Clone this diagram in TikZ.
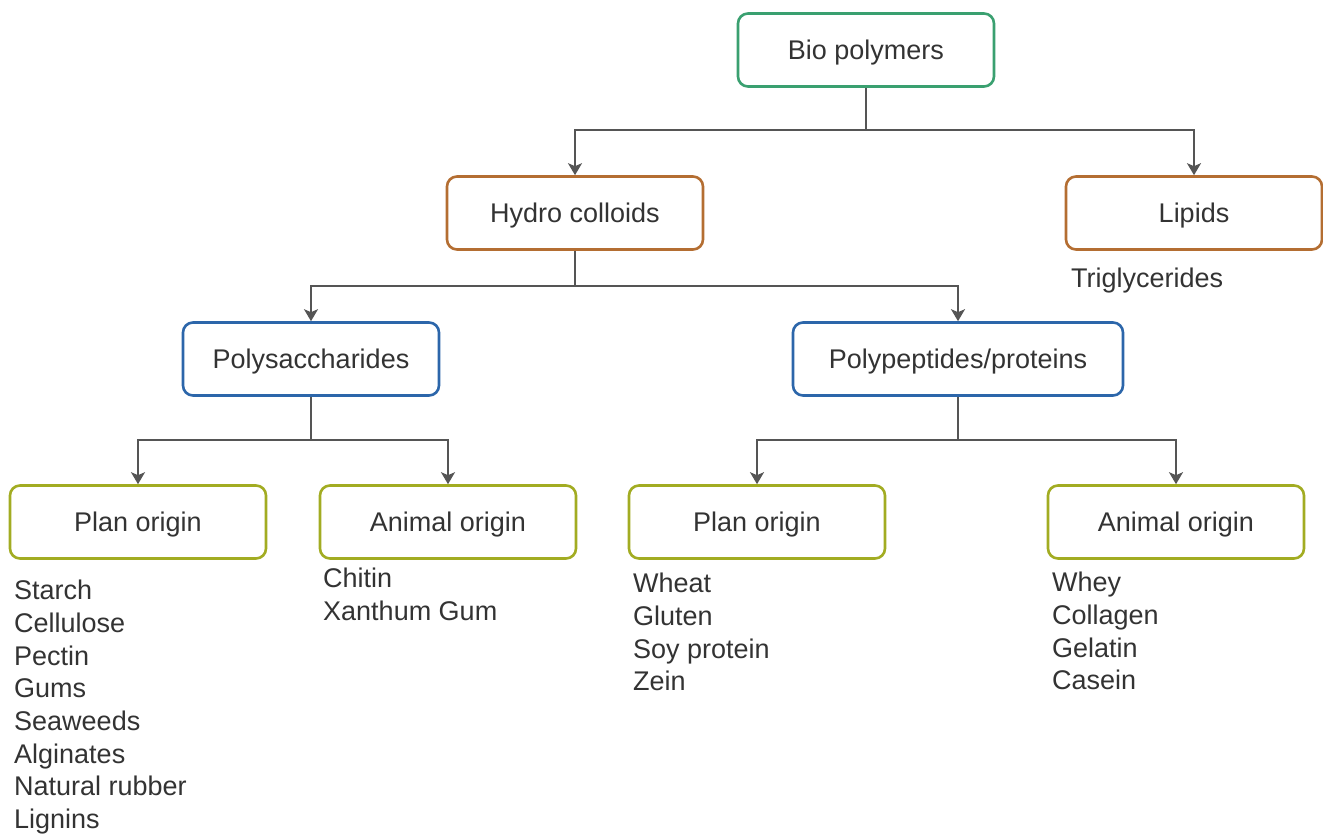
\documentclass[tikz,border=0pt]{standalone}
\usepackage{fontspec}
\setmainfont{Liberation Sans}
\usetikzlibrary{arrows.meta}
\definecolor{txt}{HTML}{333333}
\definecolor{wire}{HTML}{555555}
\definecolor{cgreen}{HTML}{3AA070}
\definecolor{cbrown}{HTML}{B46E32}
\definecolor{cblue}{HTML}{2C66AA}
\definecolor{colive}{HTML}{A2AC22}
\tikzset{
  box/.style={draw, line width=2.6pt, rounded corners=10pt, fill=white,
    minimum width=256pt, minimum height=73pt, inner sep=0pt,
    text height=25pt, text depth=6pt,
    text=txt, font=\fontsize{27}{32.7}\selectfont},
  listtext/.style={anchor=north west, inner sep=0pt, align=left,
    text=txt, font=\fontsize{27}{32.7}\selectfont},
  link/.style={draw=wire, line width=1.8pt},
  arr/.style={link, -{Stealth[length=12pt, width=14pt, inset=3pt]}},
}
\begin{document}
\begin{tikzpicture}[x=1pt, y=-1pt]
  \useasboundingbox (0,0) rectangle (1323,834);

  % tree of boxes
  \node[box, draw=cgreen] (bio) at (866,50) {Bio polymers};
  \node[box, draw=cbrown] (hydro) at (575,213) {Hydro colloids};
  \node[box, draw=cbrown] (lipids) at (1194,213) {Lipids};
  \node[box, draw=cblue] (poly) at (311,359) {Polysaccharides};
  \node[box, draw=cblue, minimum width=330pt] (pept) at (958,359) {Polypeptides/proteins};
  \node[box, draw=colive] (plantL) at (138,522) {Plan origin};
  \node[box, draw=colive] (animL) at (448,522) {Animal origin};
  \node[box, draw=colive] (plantR) at (757,522) {Plan origin};
  \node[box, draw=colive] (animR) at (1176,522) {Animal origin};

  % member lists under the boxes
  \node[listtext] (trig) at (1071,268) {Triglycerides};
  \node[listtext] (listPL) at (14,580) {Starch\\Cellulose\\Pectin\\Gums\\Seaweeds\\Alginates\\Natural rubber\\Lignins};
  \node[listtext] (listAL) at (323,568) {Chitin\\Xanthum Gum};
  \node[listtext] (listPR) at (633,573) {Wheat\\Gluten\\Soy protein\\Zein};
  \node[listtext] (listAR) at (1052,572) {Whey\\Collagen\\Gelatin\\Casein};

  % branching connectors
  \coordinate (j1) at (866,130);
  \coordinate (j2) at (575,286);
  \coordinate (j3) at (311,440);
  \coordinate (j4) at (958,440);

  \draw[link] (bio.south) -- (j1);
  \draw[arr] (j1) -| (hydro.north);
  \draw[arr] (j1) -| (lipids.north);

  \draw[link] (hydro.south) -- (j2);
  \draw[arr] (j2) -| (poly.north);
  \draw[arr] (j2) -| (pept.north);

  \draw[link] (poly.south) -- (j3);
  \draw[arr] (j3) -| (plantL.north);
  \draw[arr] (j3) -| (animL.north);

  \draw[link] (pept.south) -- (j4);
  \draw[arr] (j4) -| (plantR.north);
  \draw[arr] (j4) -| (animR.north);
\end{tikzpicture}
\end{document}
